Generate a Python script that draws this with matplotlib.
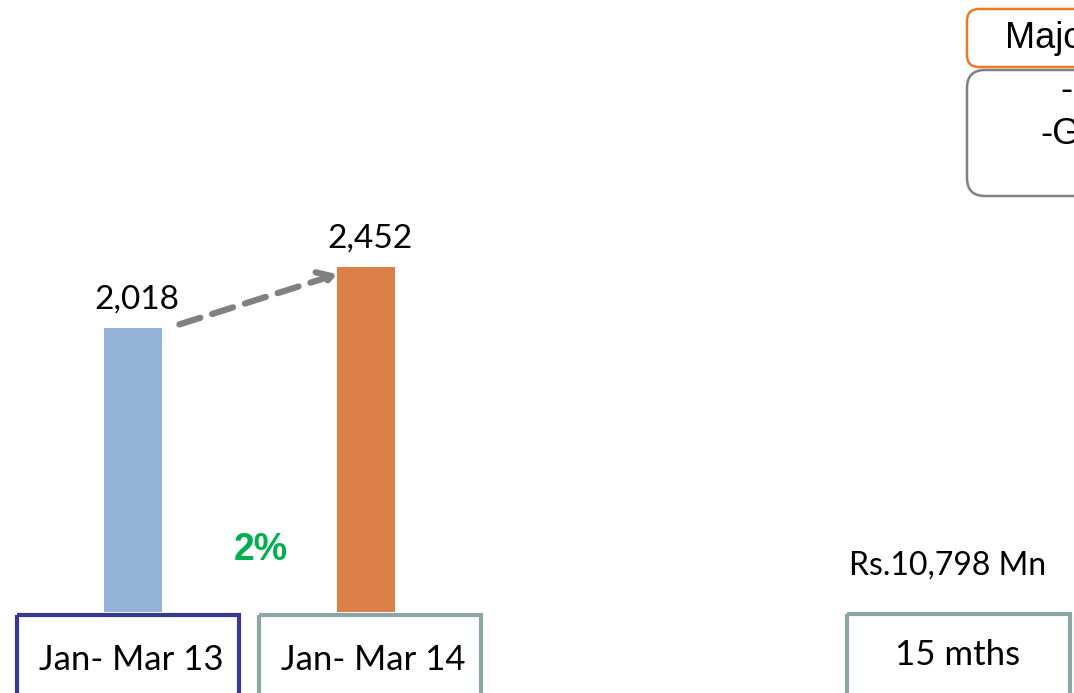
import matplotlib.pyplot as plt
from matplotlib.patches import Rectangle, FancyBboxPatch

periods = ['Jan- Mar 13', 'Jan- Mar 14']
sales = [2018, 2452]
bar_colors = ['#95B3D7', '#DD8047']
box_colors = ['#383896', '#8CA5A5']
growth = '2%'
total_label = 'Rs.10,798 Mn'
total_period = '15 mths'

W, H = 1074, 693
fig = plt.figure(figsize=(W / 100, H / 100), dpi=100)

# bar axes: baseline at y=612px, category 0 at x=132.5px, 233px between bars
px = 233.0
ax = fig.add_axes([0, (H - 612) / H, 500 / W, 612 / H])
ax.set_xlim(-132.5 / px, (500 - 132.5) / px)
ax.set_ylim(0, 2452 * 612 / 345)
ax.axis('off')
ax.bar(range(len(sales)), sales, width=58 / px, color=bar_colors)
for i, v in enumerate(sales):
    ax.text(i + 0.02, v + 95, f'{v:,}', ha='center', va='bottom',
            fontsize=24, family='Lato')

ax.annotate('', xy=(0.89, sales[1] - 45), xytext=(0.19, sales[0] + 20),
            arrowprops=dict(arrowstyle='->,head_length=1.0,head_width=0.6',
                            color='#808080', lw=4.5, linestyle=(0, (3.5, 2))))

# overlay in pixel coordinates for the slide boxes
ov = fig.add_axes([0, 0, 1, 1])
ov.set_xlim(0, W)
ov.set_ylim(H, 0)
ov.axis('off')

box_x = [15, 257]
for x0, lab, ec in zip(box_x, periods, box_colors):
    ov.add_patch(Rectangle((x0 + 2, 615), 222, 90, fill=False, ec=ec, lw=3))
    ov.text(x0 + 116, 660, lab, ha='center', va='center', fontsize=25, family='Lato')

ov.add_patch(Rectangle((847, 614), 223, 90, fill=False, ec=box_colors[1], lw=3))
ov.text(958, 655, total_period, ha='center', va='center', fontsize=25, family='Lato')
ov.text(948, 566, total_label, ha='center', va='center', fontsize=23, family='Lato')

ov.text(261, 550, growth, ha='center', va='center', fontsize=27,
        fontweight='bold', color='#00B050', family='Liberation Sans')

# top-right text boxes (cut off by the slide edge, as on the slide)
ov.add_patch(FancyBboxPatch((967, 9), 200, 58, boxstyle='round,pad=0,rounding_size=12',
                            fill=False, ec='#F07823', lw=1.8))
ov.add_patch(FancyBboxPatch((967, 70), 200, 126, boxstyle='round,pad=0,rounding_size=18',
                            fill=False, ec='#808080', lw=1.8))
ov.text(1005, 39, 'Majo', ha='left', va='center', fontsize=26, family='Liberation Sans')
ov.text(1060, 90, '-', ha='left', va='center', fontsize=26, family='Liberation Sans')
ov.text(1040, 135, '-G', ha='left', va='center', fontsize=26, family='Liberation Sans')

fig.savefig('out.png', dpi=100)
